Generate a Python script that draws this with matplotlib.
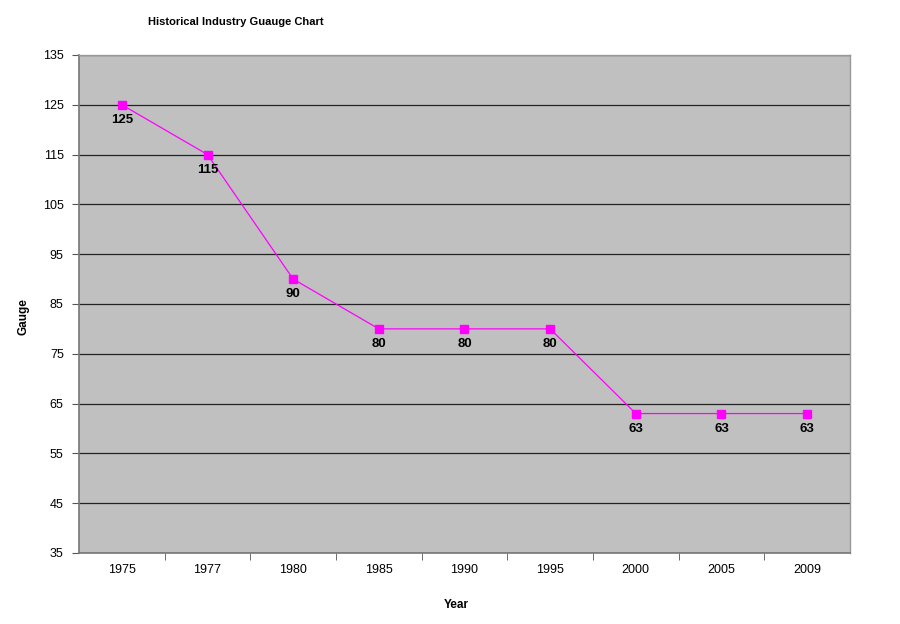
import matplotlib
matplotlib.use("Agg")
import matplotlib.pyplot as plt
import numpy as np

years = ['1975', '1977', '1980', '1985', '1990', '1995', '2000', '2005', '2009']
gauge = [125, 115, 90, 80, 80, 80, 63, 63, 63]
yticks = [35, 45, 55, 65, 75, 85, 95, 105, 115, 125, 135]

plt.rcParams['font.family'] = ['Liberation Sans', 'DejaVu Sans']

fig = plt.figure(figsize=(9, 6.24), dpi=100)
ax = fig.add_axes([0.0878, 0.1138, 0.8566, 0.7981])
ax.set_facecolor('#c0c0c0')

x = np.arange(len(years))
ax.plot(x, gauge, color='#ff00ff', lw=0.9, marker='s', ms=5.5,
        mfc='#ff00ff', mec='#ff00ff', zorder=3)
for xi, v in zip(x, gauge):
    ax.annotate(str(v), (xi, v), xytext=(0, -6.5), textcoords='offset points',
                ha='center', va='top', fontsize=9.5, fontweight='bold')

ax.set_xlim(-0.5, len(years) - 0.5)
ax.set_ylim(35, 135)
ax.set_yticks(yticks)
ax.yaxis.grid(True, color='#222222', lw=0.9)
ax.set_axisbelow(True)

# category labels centered, tick marks on category boundaries
ax.set_xticks(x)
ax.set_xticklabels(years, fontsize=9)
ax.tick_params(axis='x', length=0, pad=8)
ax.set_xticks(np.arange(0.5, len(years) - 0.5), minor=True)
ax.tick_params(axis='x', which='minor', length=5, direction='out', color='#555555')
ax.tick_params(axis='y', labelsize=9, length=5, color='#555555', pad=6)

for s in ['left', 'bottom']:
    ax.spines[s].set_color('#777777')
    ax.spines[s].set_linewidth(1.2)
for s in ['right', 'top']:
    ax.spines[s].set_color('#999999')
    ax.spines[s].set_linewidth(1.0)

ax.set_xlabel('Year', fontsize=8.5, fontweight='bold')
ax.set_ylabel('Gauge', fontsize=8.5, fontweight='bold')
ax.xaxis.set_label_coords(0.4896, -0.092)
ax.yaxis.set_label_coords(-0.0636, 0.475)
fig.text(0.262, 0.965, 'Historical Industry Guauge Chart', ha='center', va='center',
         fontsize=8, fontweight='bold')

fig.savefig('out.png', dpi=100)
